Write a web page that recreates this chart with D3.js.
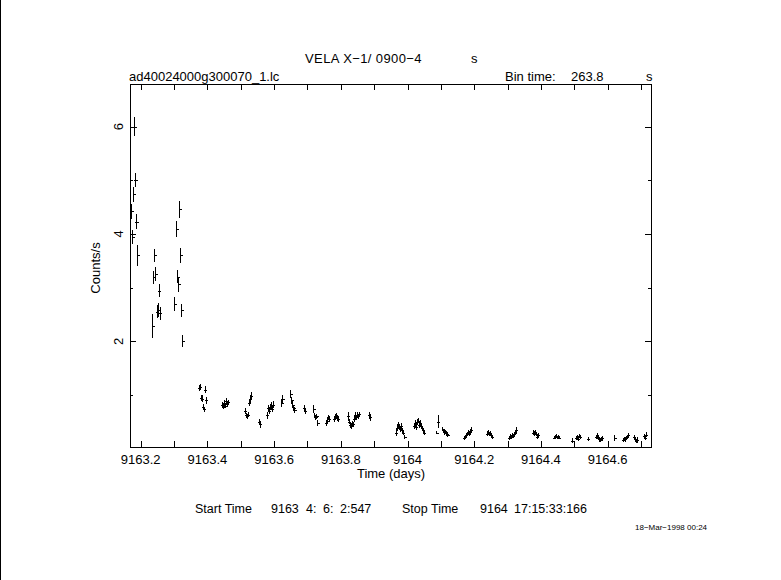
<!DOCTYPE html>
<html>
<head>
<meta charset="utf-8">
<script src="https://cdn.jsdelivr.net/npm/d3@7"></script>
<style>
  html, body { margin: 0; padding: 0; background: #fff; }
  svg { display: block; }
  text { font-family: "Liberation Sans", Arial, sans-serif; fill: #000; }
</style>
</head>
<body>
<svg id="chart" width="781" height="580"></svg>
<script>
// ---- Data ----
const titleText = "VELA X\u22121/ 0900\u22124";
const fileName = "ad40024000g300070_1.lc";
const binTimeSec = 263.8;
const xTickLabels = [9163.2, 9163.4, 9163.6, 9163.8, 9164, 9164.2, 9164.4, 9164.6];
const xMinorTicks = [9163.2, 9163.3, 9163.4, 9163.5, 9163.6, 9163.7, 9163.8, 9163.9, 9164.0, 9164.1, 9164.2, 9164.3, 9164.4, 9164.5, 9164.6, 9164.7];
const yMajorTicks = [2, 4, 6];
const yMinorTicks = [1, 3, 5];

const time = [
  9163.1709, 9163.1748, 9163.1778, 9163.1808, 9163.1829, 9163.1859, 9163.1898,
  9163.2348, 9163.2378, 9163.2408, 9163.2438, 9163.2480, 9163.2510, 9163.2540, 9163.2570,
  9163.3008, 9163.3059, 9163.3089, 9163.3119, 9163.3149, 9163.3179, 9163.3209, 9163.3239,
  9163.3734, 9163.3764, 9163.3794, 9163.3824, 9163.3854, 9163.3884, 9163.3914, 9163.3944,
  9163.4424, 9163.4454, 9163.4484, 9163.4514, 9163.4544, 9163.4574, 9163.4604,
  9163.5114, 9163.5144, 9163.5174, 9163.5204, 9163.5234, 9163.5264, 9163.5294,
  9163.5534, 9163.5564,
  9163.5774, 9163.5804, 9163.5834, 9163.5864, 9163.5894, 9163.5924, 9163.5954,
  9163.6209, 9163.6239,
  9163.6479, 9163.6509, 9163.6539, 9163.6569, 9163.6599,
  9163.6884, 9163.6914,
  9163.7169, 9163.7199, 9163.7229, 9163.7259, 9163.7289,
  9163.7545, 9163.7575, 9163.7605, 9163.7635,
  9163.7785, 9163.7815, 9163.7845, 9163.7875, 9163.7905,
  9163.8205, 9163.8235, 9163.8265, 9163.8295, 9163.8325, 9163.8355, 9163.8385, 9163.8415, 9163.8445, 9163.8475, 9163.8505, 9163.8535,
  9163.8835, 9163.8865,
  9163.9645, 9163.9675, 9163.9705, 9163.9735, 9163.9765, 9163.9795, 9163.9825, 9163.9855, 9163.9900,
  9164.0185, 9164.0215, 9164.0245, 9164.0275, 9164.0305, 9164.0335, 9164.0365, 9164.0395, 9164.0425, 9164.0455, 9164.0485,
  9164.0860, 9164.0905,
  9164.1040, 9164.1070, 9164.1100, 9164.1130, 9164.1160, 9164.1190,
  9164.1685, 9164.1715, 9164.1745, 9164.1775, 9164.1805, 9164.1835, 9164.1865, 9164.1895,
  9164.2375, 9164.2405, 9164.2435, 9164.2465, 9164.2495, 9164.2525,
  9164.3035, 9164.3065, 9164.3095, 9164.3125, 9164.3155, 9164.3185, 9164.3215, 9164.3245,
  9164.3755, 9164.3785, 9164.3815, 9164.3845, 9164.3875, 9164.3905,
  9164.4385, 9164.4415, 9164.4445, 9164.4475, 9164.4505, 9164.4535,
  9164.4925,
  9164.5045, 9164.5075, 9164.5105, 9164.5135, 9164.5165,
  9164.5405,
  9164.5645, 9164.5675, 9164.5705, 9164.5735, 9164.5765, 9164.5795, 9164.5825,
  9164.6201,
  9164.6455, 9164.6485, 9164.6515, 9164.6545, 9164.6575, 9164.6605,
  9164.6785, 9164.6815, 9164.6845, 9164.6875,
  9164.7085, 9164.7115, 9164.7145
];

const rate = [
  4.42, 3.95, 4.74, 6.00, 5.00, 4.23, 3.60,
  2.29, 3.19, 3.60, 3.25, 2.55, 2.58, 2.94, 2.52,
  2.70, 4.09, 3.20, 3.06, 4.46, 3.60, 2.58, 2.00,
  1.13, 1.15, 0.94, 0.93, 0.78, 0.73, 1.10, 0.90,
  0.82, 0.78, 0.85, 0.80, 0.88, 0.83, 0.86,
  0.70, 0.62, 0.60, 0.63, 0.85, 0.92, 0.98,
  0.50, 0.45,
  0.62, 0.75, 0.70, 0.78, 0.80, 0.74, 0.82,
  0.85, 0.92,
  1.02, 0.90, 0.82, 0.76, 0.72,
  0.76, 0.70,
  0.74, 0.62, 0.58, 0.60, 0.48,
  0.48, 0.52, 0.58, 0.55,
  0.55, 0.60, 0.62, 0.57, 0.55,
  0.60, 0.50, 0.44, 0.42, 0.46, 0.45, 0.55, 0.62, 0.58, 0.63, 0.60, 0.64,
  0.62, 0.58,
  0.30, 0.38, 0.45, 0.40, 0.36, 0.42, 0.34, 0.30, 0.22,
  0.42, 0.48, 0.40, 0.50, 0.52, 0.44, 0.48, 0.42, 0.38, 0.34, 0.30,
  0.30, 0.50,
  0.36, 0.33, 0.30, 0.31, 0.28, 0.26,
  0.20, 0.22, 0.25, 0.27, 0.30, 0.28, 0.32, 0.35,
  0.28, 0.30, 0.27, 0.29, 0.25, 0.22,
  0.20, 0.24, 0.22, 0.25, 0.23, 0.27, 0.30, 0.34,
  0.30, 0.28, 0.31, 0.27, 0.22, 0.25,
  0.20, 0.22, 0.24, 0.21, 0.23, 0.20,
  0.15,
  0.20, 0.22, 0.18, 0.24, 0.21,
  0.18,
  0.22, 0.25, 0.20, 0.17, 0.16, 0.18, 0.19,
  0.20,
  0.16, 0.18, 0.17, 0.20, 0.22, 0.25,
  0.22, 0.17, 0.14, 0.16,
  0.24, 0.20, 0.26
];

const rateErr = [
  0.14, 0.13, 0.14, 0.18, 0.13, 0.14, 0.20,
  0.22, 0.12, 0.12, 0.13, 0.12, 0.13, 0.12, 0.12,
  0.13, 0.15, 0.12, 0.14, 0.16, 0.14, 0.12, 0.11,
  0.06, 0.06, 0.06, 0.06, 0.06, 0.05, 0.07, 0.07,
  0.05, 0.05, 0.06, 0.05, 0.06, 0.05, 0.05,
  0.06, 0.05, 0.05, 0.05, 0.06, 0.07, 0.08,
  0.06, 0.06,
  0.06, 0.06, 0.05, 0.06, 0.06, 0.05, 0.06,
  0.07, 0.07,
  0.08, 0.06, 0.06, 0.05, 0.05,
  0.06, 0.06,
  0.07, 0.05, 0.05, 0.05, 0.05,
  0.06, 0.05, 0.05, 0.05,
  0.05, 0.05, 0.05, 0.05, 0.05,
  0.08, 0.05, 0.05, 0.05, 0.05, 0.05, 0.05, 0.06, 0.05, 0.05, 0.05, 0.05,
  0.07, 0.06,
  0.06, 0.06, 0.05, 0.05, 0.05, 0.05, 0.05, 0.05, 0.04,
  0.05, 0.05, 0.05, 0.06, 0.05, 0.05, 0.05, 0.05, 0.05, 0.04, 0.04,
  0.03, 0.12,
  0.04, 0.04, 0.04, 0.04, 0.04, 0.04,
  0.04, 0.04, 0.04, 0.04, 0.04, 0.04, 0.04, 0.05,
  0.04, 0.04, 0.04, 0.04, 0.04, 0.04,
  0.04, 0.04, 0.04, 0.04, 0.04, 0.04, 0.04, 0.07,
  0.04, 0.04, 0.04, 0.04, 0.04, 0.04,
  0.03, 0.03, 0.03, 0.03, 0.03, 0.03,
  0.04,
  0.04, 0.04, 0.04, 0.04, 0.04,
  0.04,
  0.04, 0.04, 0.04, 0.04, 0.04, 0.04, 0.04,
  0.05,
  0.04, 0.04, 0.04, 0.04, 0.04, 0.04,
  0.04, 0.04, 0.04, 0.05,
  0.04, 0.04, 0.05
];

// ---- Layout ----
const svg = d3.select("#chart");
const plot = { left: 130, right: 651, top: 84, bottom: 447 };

const x = d3.scaleLinear().domain([9163.1679, 9164.7299]).range([plot.left, plot.right]);
const y = d3.scaleLinear().domain([0.03, 6.795]).range([plot.bottom, plot.top]);

const points = time.map((t, i) => ({ t, v: rate[i], e: rateErr[i] }));
const halfBin = binTimeSec / 86400 / 2;

// left edge line of the page
svg.append("line").attr("x1", 0.5).attr("x2", 0.5).attr("y1", 0).attr("y2", 580)
  .attr("stroke", "#000").attr("stroke-width", 1);

const g = svg.append("g").attr("shape-rendering", "crispEdges");

// frame
g.append("rect")
  .attr("x", plot.left + 0.5).attr("y", plot.top + 0.5)
  .attr("width", plot.right - plot.left).attr("height", plot.bottom - plot.top)
  .attr("fill", "none").attr("stroke", "#000").attr("stroke-width", 1);

// x ticks (bottom and top, inward)
const xt = g.append("g");
xMinorTicks.forEach(v => {
  const px = Math.round(x(v)) + 0.5;
  xt.append("line").attr("x1", px).attr("x2", px).attr("y1", plot.bottom).attr("y2", plot.bottom - 6).attr("stroke", "#000");
  xt.append("line").attr("x1", px).attr("x2", px).attr("y1", plot.top).attr("y2", plot.top + 6).attr("stroke", "#000");
});

// y ticks (left and right, inward)
const yt = g.append("g");
yMajorTicks.forEach(v => {
  const py = Math.round(y(v)) + 0.5;
  yt.append("line").attr("x1", plot.left).attr("x2", plot.left + 6).attr("y1", py).attr("y2", py).attr("stroke", "#000");
  yt.append("line").attr("x1", plot.right).attr("x2", plot.right - 6).attr("y1", py).attr("y2", py).attr("stroke", "#000");
});
yMinorTicks.forEach(v => {
  const py = Math.round(y(v)) + 0.5;
  yt.append("line").attr("x1", plot.left).attr("x2", plot.left + 3).attr("y1", py).attr("y2", py).attr("stroke", "#000");
  yt.append("line").attr("x1", plot.right).attr("x2", plot.right - 3).attr("y1", py).attr("y2", py).attr("stroke", "#000");
});

// data: error bars
const pts = g.append("g").attr("stroke", "#000").attr("stroke-width", 1);
pts.selectAll("line.ev").data(points).join("line").attr("class", "ev")
  .attr("x1", d => Math.round(x(d.t)) + 0.5).attr("x2", d => Math.round(x(d.t)) + 0.5)
  .attr("y1", d => y(d.v - d.e)).attr("y2", d => y(d.v + d.e));
pts.selectAll("line.eh").data(points).join("line").attr("class", "eh")
  .attr("x1", d => Math.round(x(d.t - halfBin)) - 0.5).attr("x2", d => Math.round(x(d.t + halfBin)) + 1.5)
  .attr("y1", d => Math.round(y(d.v)) + 0.5).attr("y2", d => Math.round(y(d.v)) + 0.5);

// x tick labels
const fmtX = d3.format("");
svg.append("g").selectAll("text").data(xTickLabels).join("text")
  .attr("x", d => x(d)).attr("y", 464)
  .attr("text-anchor", "middle").attr("font-size", 13)
  .text(d => fmtX(d));

// y tick labels (rotated)
svg.append("g").selectAll("text").data(yMajorTicks).join("text")
  .attr("transform", d => `translate(123,${y(d)}) rotate(-90)`)
  .attr("text-anchor", "middle").attr("font-size", 13)
  .text(d => d);

// axis titles
svg.append("text").attr("x", 391).attr("y", 478).attr("text-anchor", "middle").attr("font-size", 13).text("Time (days)");
svg.append("text").attr("transform", "translate(100,268) rotate(-90)").attr("text-anchor", "middle").attr("font-size", 13).text("Counts/s");

// titles
svg.append("text").attr("x", 305).attr("y", 63).attr("font-size", 13).style("letter-spacing", "0.4px").text(titleText);
svg.append("text").attr("x", 471).attr("y", 63).attr("font-size", 13).text("s");
svg.append("text").attr("x", 129).attr("y", 81).attr("font-size", 13).text(fileName);
svg.append("text").attr("x", 505).attr("y", 81).attr("font-size", 13).text("Bin time:");
svg.append("text").attr("x", 571).attr("y", 81).attr("font-size", 13).text(binTimeSec.toFixed(1));
svg.append("text").attr("x", 646).attr("y", 81).attr("font-size", 13).text("s");

// start/stop line
const startStop = [
  { x: 195, s: "Start Time" }, { x: 271, s: "9163" }, { x: 306, s: "4:" }, { x: 323, s: "6:" },
  { x: 340, s: "2:547" }, { x: 402, s: "Stop Time" }, { x: 480, s: "9164" }, { x: 514, s: "17:15:33:166" }
];
svg.append("g").selectAll("text").data(startStop).join("text")
  .attr("x", d => d.x).attr("y", 513).attr("font-size", 12.5).text(d => d.s);

svg.append("text").attr("x", 635).attr("y", 530).attr("font-size", 8).text("18\u2212Mar\u22121998 00:24");
</script>
</body>
</html>
